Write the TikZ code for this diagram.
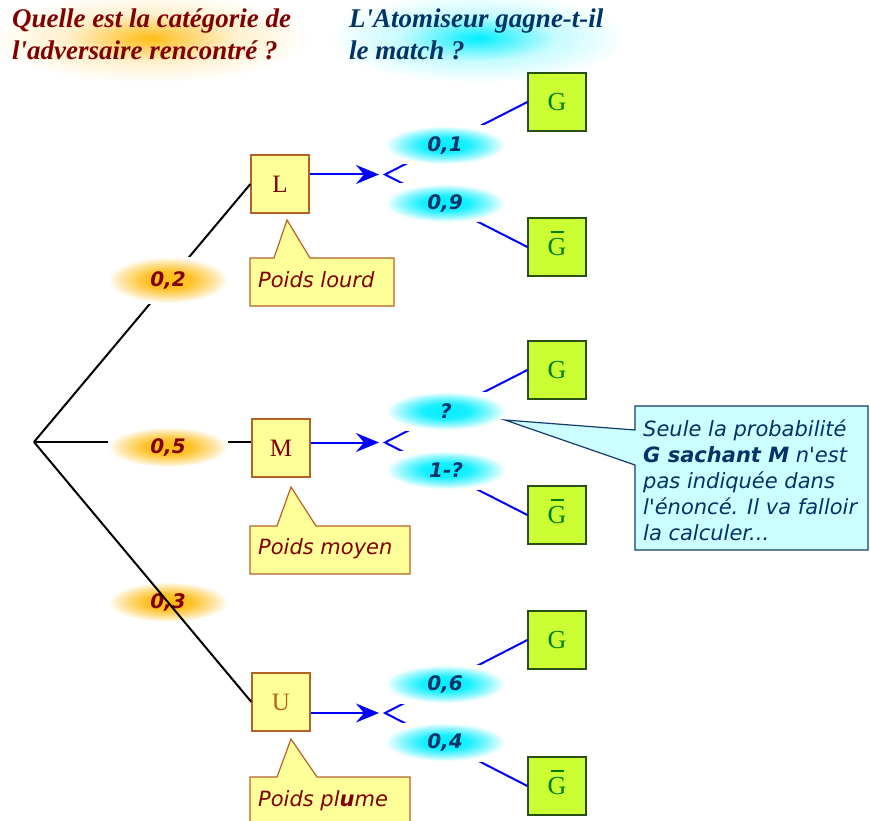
\documentclass[tikz,border=0pt]{standalone}
\usepackage{fontspec}
\setmainfont{Liberation Serif}
\setsansfont{DejaVu Sans}[ItalicFont={DejaVu Sans Oblique},BoldFont={DejaVu Sans Bold},BoldItalicFont={DejaVu Sans Bold Oblique}]
\usetikzlibrary{arrows.meta,calc}

\definecolor{dred}{RGB}{128,0,0}
\definecolor{dblue}{RGB}{0,51,102}
\definecolor{boxY}{RGB}{255,255,153}
\definecolor{boxYb}{RGB}{181,98,40}
\definecolor{boxG}{RGB}{204,255,51}
\definecolor{boxGb}{RGB}{40,80,20}
\definecolor{gtext}{RGB}{0,128,0}
\definecolor{calloutC}{RGB}{204,255,255}
\definecolor{calloutB}{RGB}{20,60,110}
\definecolor{glowO}{RGB}{255,188,20}
\definecolor{glowC}{RGB}{0,238,255}
\definecolor{utext}{RGB}{180,95,30}
\definecolor{linkblue}{RGB}{0,0,255}

\pgfdeclareradialshading{oglowS}{\pgfpoint{0bp}{0bp}}{color(0bp)=(glowO); color(10bp)=(glowO!90!white); color(19bp)=(glowO!40!white); color(25bp)=(white); color(50bp)=(white)}
\pgfdeclareradialshading{cglowS}{\pgfpoint{0bp}{0bp}}{color(0bp)=(glowC); color(10bp)=(glowC!90!white); color(19bp)=(glowC!40!white); color(25bp)=(white); color(50bp)=(white)}
\pgfdeclareradialshading{otitleS}{\pgfpoint{0bp}{0bp}}{color(0bp)=(glowO); color(4bp)=(glowO!75!white); color(13bp)=(glowO!22!white); color(25bp)=(white); color(50bp)=(white)}
\pgfdeclareradialshading{ctitleS}{\pgfpoint{0bp}{0bp}}{color(0bp)=(glowC); color(4bp)=(glowC!75!white); color(13bp)=(glowC!22!white); color(25bp)=(white); color(50bp)=(white)}

\newcommand\lblfont{\sffamily\bfseries\itshape\fontsize{20}{24}\selectfont}
\newcommand\notefont{\sffamily\itshape\fontsize{21}{26}\selectfont}
\newcommand\titlefont{\rmfamily\bfseries\itshape\fontsize{27}{32}\selectfont}
\newcommand\Gbar{\ooalign{G\cr\hidewidth\rule[0.86em]{0.5em}{0.07em}\hidewidth\cr}}
\newcommand\ap{\textquotesingle}

\begin{document}
\begin{tikzpicture}[x=1pt,y=-1pt,
  catbox/.style={draw=boxYb, fill=boxY, line width=1.2pt, minimum size=58pt, inner sep=0pt,
    font=\rmfamily\fontsize{25}{25}\selectfont, text=dred},
  gbox/.style={draw=boxGb, fill=boxG, line width=1.2pt, minimum size=58pt, inner sep=0pt,
    font=\rmfamily\fontsize{26}{26}\selectfont, text=gtext},
  lblglow/.style={shade, inner sep=0pt, minimum width=120pt, minimum height=38pt, font=\lblfont},
  olbl/.style={lblglow, shading=oglowS, text=dred},
  clbl/.style={lblglow, shading=cglowS, text=dblue},
  tree/.style={line width=2pt, black},
  bl/.style={line width=2pt, linkblue},
  blarrow/.style={bl, -{Stealth[length=23pt,width=19pt,inset=8pt]}},
  notebox/.style={draw=boxYb, fill=boxY, line width=1.2pt, line join=miter},
  bignote/.style={draw=calloutB, fill=calloutC, line width=1.2pt, line join=miter},
  notetext/.style={anchor=base west, inner sep=0pt, font=\notefont, text=dred}
]
\useasboundingbox (0,0) rectangle (870,821);

% title glows and titles
\node[shade, shading=otitleS, minimum width=320pt, minimum height=90pt, inner sep=0pt] (tg1) at (150,38) {};
\node[shade, shading=ctitleS, minimum width=300pt, minimum height=90pt, inner sep=0pt] (tg2) at (478,38) {};
\node[anchor=north west, align=left, inner sep=0pt, font=\titlefont, text=dred] (t1) at (12,9)
  {Quelle est la catégorie de\\l\ap adversaire rencontré ?};
\node[anchor=north west, align=left, inner sep=0pt, font=\titlefont, text=dblue] (t2) at (349,9)
  {L\ap Atomiseur gagne-t-il\\le match ?};

% nodes
\coordinate (root) at (34,442);
\node[catbox] (L) at (280,184) {L};
\node[catbox] (M) at (281,448) {M};
\node[catbox, text=utext] (U) at (281,702) {U};

\node[gbox] (G1) at (557,102) {G};
\node[gbox] (Gb1) at (557,247) {\Gbar};
\node[gbox] (G2) at (557,370) {G};
\node[gbox] (Gb2) at (557,515) {\Gbar};
\node[gbox] (G3) at (557,640) {G};
\node[gbox] (Gb3) at (557,786) {\Gbar};

\coordinate (vL) at (385,174.5);
\coordinate (vM) at (385,442.5);
\coordinate (vU) at (385,713);
\coordinate (aL) at (379,174.5);
\coordinate (aM) at (379,442.5);
\coordinate (aU) at (379,713);

% first level
\draw[tree] (root) -- (L.west);
\draw[tree] (root) -- (root -| M.west);
\node[olbl, minimum height=46pt] (p02) at (168,280) {0,2};
\node[olbl, minimum height=40pt] (p05) at (168,447) {0,5};
\node[olbl, minimum height=40pt] (p03) at (168,602) {0,3};
\draw[tree] (root) -- (U.west);

% second level
\draw[bl] (G1.west) -- (vL) -- (Gb1.west);
\draw[bl] (G2.west) -- (vM) -- (Gb2.west);
\draw[bl] (G3.west) -- (vU) -- (Gb3.west);
\node[clbl] (q01) at (445,145) {0,1};
\node[clbl] (q09) at (445,203) {0,9};
\node[clbl] (qm1) at (446,411) {?};
\node[clbl] (qm2) at (446,470) {1-?};
\node[clbl] (q06) at (445,684) {0,6};
\node[clbl] (q04) at (445,742) {0,4};

\draw[blarrow] (L.east |- vL) -- (aL);
\draw[blarrow] (M.east |- vM) -- (aM);
\draw[blarrow] (U.east |- vU) -- (aU);

% yellow notes
\draw[notebox] (250,258) -- (274,258) -- (287,220) -- (310,258) -- (394,258) -- (394,306) -- (250,306) -- cycle;
\node[notetext] (nL) at (258,287) {Poids lourd};
\draw[notebox] (250,526) -- (277,526) -- (291,487) -- (316,526) -- (410,526) -- (410,574) -- (250,574) -- cycle;
\node[notetext] (nM) at (258,554) {Poids moyen};
\draw[notebox] (250,777) -- (277,777) -- (291,739) -- (317,777) -- (410,777) -- (410,835) -- (250,835) -- cycle;
\node[notetext] (nU) at (258,806) {Poids pl\textbf{u}me};

% big note
\draw[bignote] (635,406) -- (868,406) -- (868,550) -- (635,550) -- (635,465) -- (505,420) -- (635,430) -- cycle;
\node[anchor=north west, align=left, inner sep=0pt, font=\notefont, text=dblue] (nq) at (643,419.5)
  {Seule la probabilité\\\textbf{G sachant M} n\ap est\\pas indiquée dans\\l\ap énoncé. Il va falloir\\la calculer...};
\end{tikzpicture}
\end{document}
